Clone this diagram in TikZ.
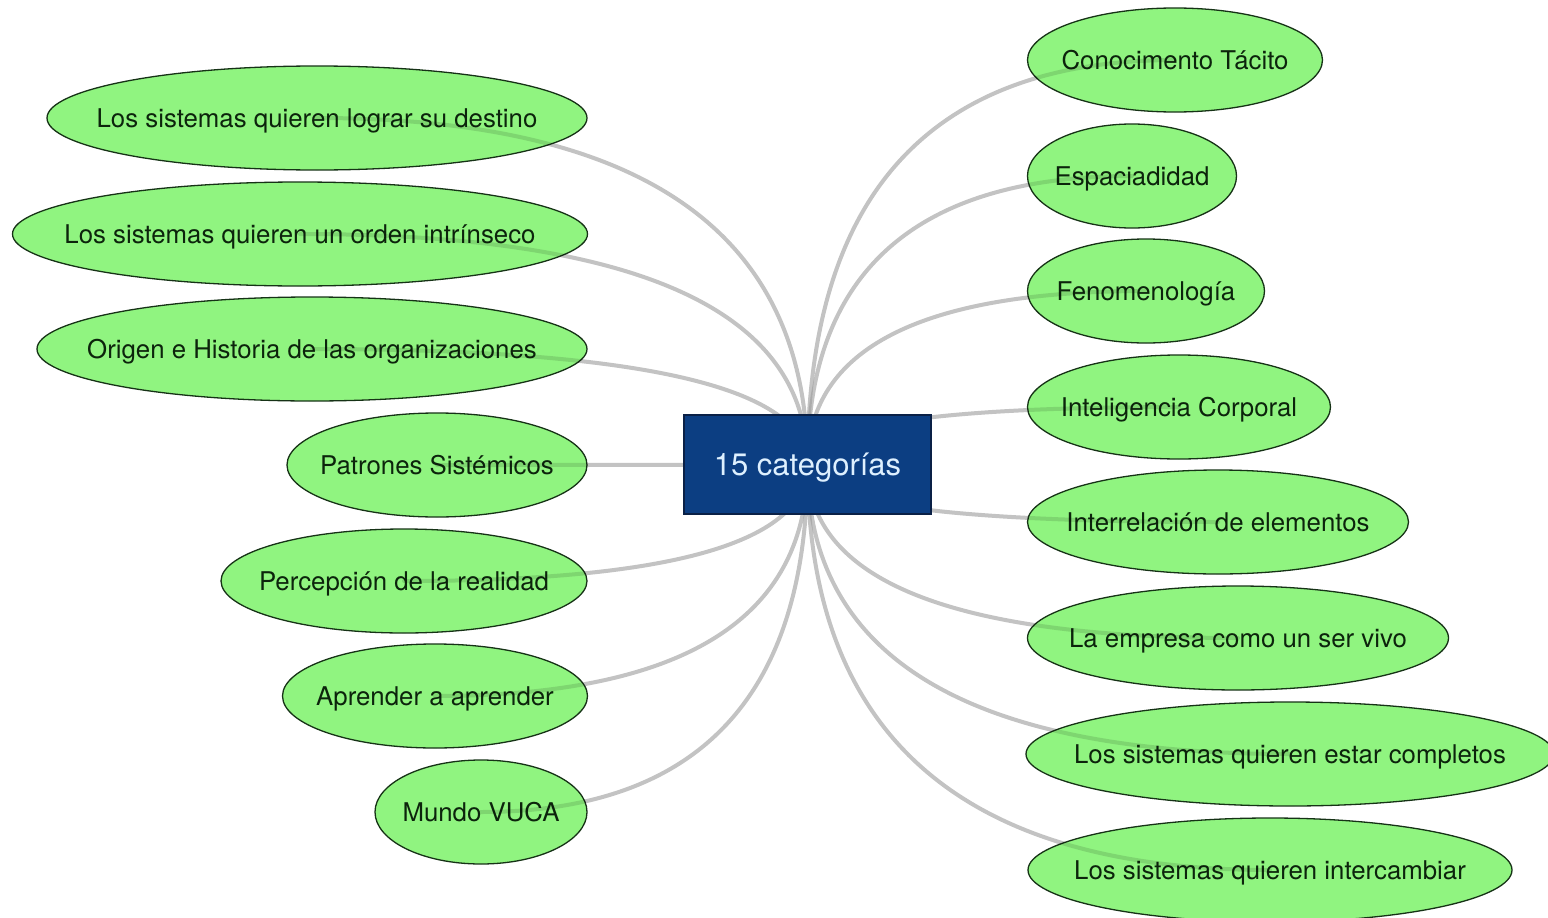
\documentclass[tikz,border=0pt]{standalone}
\usepackage{fontspec}
\setmainfont{TeX Gyre Heros}
\usetikzlibrary{shapes.geometric,calc}
\definecolor{leafgreen}{RGB}{144,244,128}
\definecolor{leafedge}{RGB}{22,50,22}
\definecolor{leaftext}{RGB}{12,36,12}
\definecolor{hubblue}{RGB}{12,62,130}
\definecolor{hubedge}{RGB}{10,32,70}
\definecolor{hubtext}{RGB}{222,240,255}
\definecolor{linkbase}{RGB}{223,223,223}
\definecolor{linktint}{RGB}{224,224,224}
\pgfdeclarelayer{background}
\pgfdeclarelayer{hublayer}
\pgfsetlayers{background,main,hublayer}
\begin{document}
\begin{tikzpicture}[x=1pt,y=-1pt,
  leaf/.style={ellipse, draw=leafedge, fill=leafgreen, line width=1.3pt,
    minimum height=104pt, inner sep=0pt},
  leaflabel/.style={text=leaftext, font=\fontsize{25.8}{30}\selectfont,
    inner sep=0pt, text height=19pt, text depth=0pt},
  hub/.style={rectangle, draw=hubedge, fill=hubblue, line width=1.3pt,
    minimum width=247pt, minimum height=99pt, text=hubtext, inner sep=0pt,
    text height=21.5pt, text depth=0pt, font=\fontsize{31}{36}\selectfont},
  connector/.style={line width=4pt, line cap=round},
  leafpath/.style={connector, draw=#1}]

\useasboundingbox (0,0) rectangle (1548,918);

% left branch
\node[leaf, minimum width=540pt] (l1) at (317,118) {};
\node[leaflabel] (t1) at (l1.center) {Los sistemas quieren lograr su destino};
\node[leaf, minimum width=575pt] (l2) at (300,234) {};
\node[leaflabel] (t2) at (l2.center) {Los sistemas quieren un orden intrínseco};
\node[leaf, minimum width=550pt] (l3) at (312,349) {};
\node[leaflabel] (t3) at (l3.center) {Origen e Historia de las organizaciones};
\node[leaf, minimum width=300pt] (l4) at (437,465) {};
\node[leaflabel] (t4) at (l4.center) {Patrones Sistémicos};
\node[leaf, minimum width=366pt] (l5) at (404,581) {};
\node[leaflabel] (t5) at (l5.center) {Percepción de la realidad};
\node[leaf, minimum width=305pt] (l6) at (435,696) {};
\node[leaflabel] (t6) at (l6.center) {Aprender a aprender};
\node[leaf, minimum width=212pt] (l7) at (481,812) {};
\node[leaflabel] (t7) at (l7.center) {Mundo VUCA};

% right branch
\node[leaf, minimum width=295pt] (r1) at (1175,60) {};
\node[leaflabel] (u1) at (r1.center) {Conocimento Tácito};
\node[leaf, minimum width=209pt] (r2) at (1132,176) {};
\node[leaflabel] (u2) at (r2.center) {Espaciadidad};
\node[leaf, minimum width=237pt] (r3) at (1146,291) {};
\node[leaflabel] (u3) at (r3.center) {Fenomenología};
\node[leaf, minimum width=303pt] (r4) at (1179,407) {};
\node[leaflabel] (u4) at (r4.center) {Inteligencia Corporal};
\node[leaf, minimum width=381pt] (r5) at (1218,522) {};
\node[leaflabel] (u5) at (r5.center) {Interrelación de elementos};
\node[leaf, minimum width=421pt] (r6) at (1238,638) {};
\node[leaflabel] (u6) at (r6.center) {La empresa como un ser vivo};
\node[leaf, minimum width=528pt] (r7) at (1290,754) {};
\node[leaflabel] (u7) at (r7.center) {Los sistemas quieren estar completos};
\node[leaf, minimum width=484pt] (r8) at (1270,870) {};
\node[leaflabel] (u8) at (r8.center) {Los sistemas quieren intercambiar};

% central topic, kept above the connectors
\begin{pgfonlayer}{hublayer}
\node[hub] (hub) at (807.5,464.5) {15 categorías};
\end{pgfonlayer}

% connectors: quadratic curves bending through the corner (hub.x, leaf.y);
% a light base stroke below the leaves, then a multiplied stroke that
% darkens it outside and shows faintly through the leaves
\foreach \n in {l1,l2,l3,l4,l5,l6,l7,r1,r2,r3,r4,r5,r6,r7,r8} {
  \begin{pgfonlayer}{background}
  \draw[leafpath=linkbase] (hub.center)
    .. controls ($(hub.center)!2/3!(hub.center |- \n.center)$)
            and ($(\n.center)!2/3!(hub.center |- \n.center)$) .. (\n.center);
  \end{pgfonlayer}
  \begin{scope}[blend mode=multiply]
  \draw[leafpath=linktint] (hub.center)
    .. controls ($(hub.center)!2/3!(hub.center |- \n.center)$)
            and ($(\n.center)!2/3!(hub.center |- \n.center)$) .. (\n.center);
  \end{scope}
}
\end{tikzpicture}
\end{document}
